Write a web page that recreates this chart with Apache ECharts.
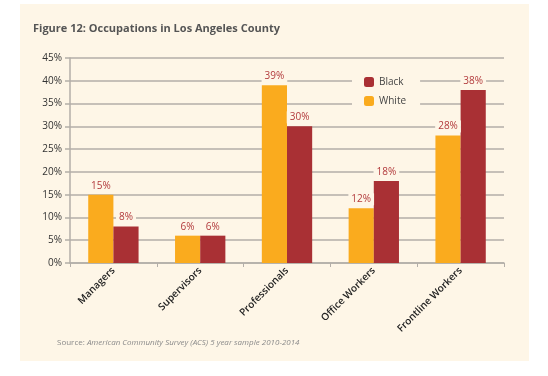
<!DOCTYPE html>
<html>
<head>
<meta charset="utf-8">
<script src="https://cdn.jsdelivr.net/npm/echarts@6/dist/echarts.min.js"></script>
<style>
  html, body { margin: 0; padding: 0; background: #fff; }
  #chart { width: 548px; height: 376px; }
</style>
</head>
<body>
<div id="chart"></div>
<script>
// occupations, LA county (ACS 2010-2014)
const categories = ['Managers', 'Supervisors', 'Professionals', 'Office Workers', 'Frontline Workers'];
const white = [15, 6, 39, 12, 28];
const black = [8, 6, 30, 18, 38];

const cream = '#FEF6E7';
const gridGrey = '#B3AEA8';
const labelRed = '#B23A3C';

const chart = echarts.init(document.getElementById('chart'));

const barLabel = {
  show: true,
  position: 'top',
  distance: 3,
  formatter: '{c}%',
  color: labelRed,
  fontSize: 10,
  fontFamily: 'Open Sans',
  backgroundColor: cream,
  padding: [1, 3]
};

chart.setOption({
  backgroundColor: '#fff',
  graphic: [{
    type: 'rect',
    shape: {x: 20, y: 4, width: 509, height: 357},
    style: {fill: cream},
    z: -10
  }],
  title: [{
    text: 'Figure 12: Occupations in Los Angeles County',
    left: 28,
    top: 18,
    textStyle: {fontFamily: 'Open Sans', fontWeight: 'bold', fontSize: 11, color: '#555'}
  }, {
    text: '{a|Source: }{b|American Community Survey (ACS) 5 year sample 2010-2014}',
    left: 52,
    top: 334,
    textStyle: {
      fontWeight: 'normal',
      rich: {
        a: {fontFamily: 'Open Sans', fontSize: 8, color: '#8a8a8a', fontWeight: 'normal'},
        b: {fontFamily: 'Open Sans', fontSize: 8, color: '#8a8a8a', fontWeight: 'normal', fontStyle: 'italic'}
      }
    }
  }],
  legend: {
    data: ['Black', 'White'],
    orient: 'vertical',
    left: 352,
    top: 73,
    padding: [4, 14, 4, 12],
    itemWidth: 10,
    itemHeight: 10,
    itemGap: 9,
    backgroundColor: cream,
    textStyle: {fontFamily: 'Open Sans', fontSize: 10, color: '#444'}
  },
  grid: {left: 70, right: 44, top: 58, bottom: 113},
  xAxis: {
    type: 'category',
    data: categories,
    axisLine: {lineStyle: {color: gridGrey, width: 1.5}},
    axisTick: {show: true, length: 4, lineStyle: {color: gridGrey}},
    axisLabel: {
      rotate: 45,
      interval: 0,
      margin: 6,
      fontFamily: 'Open Sans',
      fontWeight: 600,
      fontSize: 10,
      color: '#222'
    }
  },
  yAxis: {
    type: 'value',
    min: 0,
    max: 45,
    interval: 5,
    axisLine: {show: true, lineStyle: {color: gridGrey, width: 1.5}},
    axisTick: {show: true, length: 5, lineStyle: {color: gridGrey, width: 1.5}},
    splitLine: {lineStyle: {color: gridGrey, width: 1.5}},
    axisLabel: {
      formatter: '{value}%',
      margin: 8,
      fontFamily: 'Open Sans',
      fontSize: 10,
      color: '#333'
    }
  },
  series: [{
    name: 'White',
    type: 'bar',
    data: white,
    barGap: 0,
    barCategoryGap: '42%',
    itemStyle: {color: '#FAAB1E'},
    label: barLabel
  }, {
    name: 'Black',
    type: 'bar',
    data: black,
    itemStyle: {color: '#A93034'},
    label: barLabel
  }]
});
</script>
</body>
</html>
